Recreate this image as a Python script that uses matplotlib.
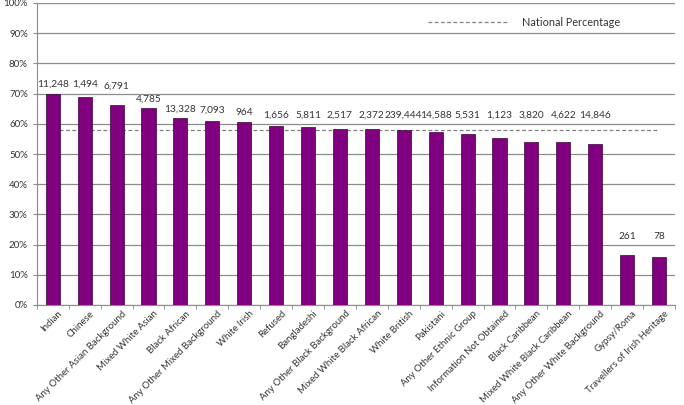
import matplotlib
matplotlib.use("Agg")
import matplotlib.pyplot as plt
import matplotlib.transforms as mtransforms
from matplotlib.ticker import FuncFormatter, MultipleLocator, FixedLocator
import numpy as np

categories = ["Indian", "Chinese", "Any Other Asian Background", "Mixed White Asian",
              "Black African", "Any Other Mixed Background", "White Irish", "Refused",
              "Bangladeshi", "Any Other Black Background", "Mixed White Black African",
              "White British", "Pakistani", "Any Other Ethnic Group",
              "Information Not Obtained", "Black Caribbean", "Mixed White Black Caribbean",
              "Any Other White Background", "Gypsy/Roma", "Travellers of Irish Heritage"]
percentages = [69.8, 68.8, 66.2, 65.1, 61.8, 61.0, 60.6, 59.4, 58.9, 58.4, 58.3,
               57.9, 57.3, 56.6, 55.2, 53.9, 54.0, 53.4, 16.7, 15.9]
counts = ["11,248", "1,494", "6,791", "4,785", "13,328", "7,093", "964", "1,656",
          "5,811", "2,517", "2,372", "239,444", "14,588", "5,531", "1,123", "3,820",
          "4,622", "14,846", "261", "78"]
national_percentage = 57.9

# layout: vertical centre of each count label (in axis %), as placed in the source chart
label_y = [73.1, 73.2, 72.6, 68.2, 64.7, 64.6, 63.7, 62.7, 62.7, 62.7, 62.7,
           62.7, 62.7, 62.7, 62.7, 62.7, 62.7, 62.7, 22.6, 22.6]

plt.rcParams['font.family'] = ['Lato', 'DejaVu Sans']
fig = plt.figure(figsize=(6.84, 4.05), dpi=100)
ax = fig.add_axes([36.8/684, 1-305/405, (675-36.8)/684, 302/405])

x = np.arange(len(categories))
ax.plot(x, [national_percentage]*len(x), color='#808080', linestyle=(0, (3, 2)),
        linewidth=0.9, zorder=2, label='National Percentage')
ax.bar(x, percentages, width=0.44, color='#800080', edgecolor='#3a003a',
       linewidth=0.5, zorder=3)
for xi, ly, c in zip(x, label_y, counts):
    ax.text(xi, ly, c, ha='center', va='center', fontsize=7.3, color='#333333')

ax.set_xlim(-0.5, len(categories) - 0.5)
ax.set_ylim(0, 100)
ax.yaxis.set_major_locator(MultipleLocator(10))
ax.yaxis.set_major_formatter(FuncFormatter(lambda v, p: f"{int(v)}%"))
ax.grid(axis='y', color='#8c8c8c', linewidth=0.9, zorder=0)
ax.set_axisbelow(True)
for s in ['top', 'right']:
    ax.spines[s].set_visible(False)
ax.spines['left'].set_color('#8c8c8c')
ax.spines['bottom'].set_color('#8c8c8c')
ax.tick_params(axis='y', labelsize=7, colors='#333333', length=3, color='#8c8c8c')
ax.set_xticks(x)
ax.set_xticklabels(categories, rotation=45, ha='right', rotation_mode='anchor',
                   fontsize=6.9, color='#333333')
ax.tick_params(axis='x', which='major', length=0, pad=3)
offset = mtransforms.ScaledTranslation(5/100, 0, fig.dpi_scale_trans)
for lbl in ax.get_xticklabels():
    lbl.set_transform(lbl.get_transform() + offset)
ax.xaxis.set_minor_locator(FixedLocator(np.arange(-0.5, len(categories), 1.0)))
ax.tick_params(axis='x', which='minor', length=3, color='#8c8c8c')

leg = ax.legend(loc='upper right', bbox_to_anchor=(0.93, 0.985), frameon=False,
                fontsize=7.8, handlelength=7.5, handletextpad=1.2)
for t in leg.get_texts():
    t.set_color('#333333')

fig.savefig("out.png", dpi=100)
